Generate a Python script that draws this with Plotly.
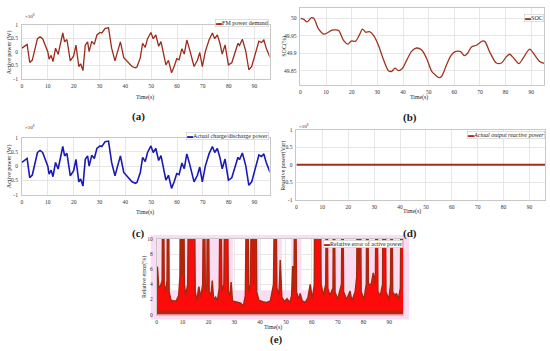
import plotly.graph_objects as go

W, H = 550, 351

# ---------------- data ----------------
# (a)/(c) FM power demand & actual charge/discharge power (x1e6 W)
power_time = [0, 1.4, 2.0, 3.0, 4.0, 6.0, 7.0, 8.0, 10.0, 10.5, 11.3, 12.0, 13.0, 14.0,
              15.8, 16.5, 17.4, 18.7, 20.0, 20.9, 22.0, 22.7, 23.6, 24.5, 25.4, 26.0,
              27.0, 28.0, 29.0, 30.2, 30.9, 32.2, 33.5, 34.7, 36.0, 37.0, 38.1, 39.4,
              40.6, 42.6, 43.9, 44.5, 45.8, 46.7, 47.7, 48.6, 49.9, 50.8, 51.8, 52.9,
              53.8, 54.7, 55.7, 56.7, 57.9, 58.9, 59.9, 60.8, 61.9, 62.8, 63.8, 64.7,
              65.7, 66.6, 67.9, 68.8, 69.8, 71.0, 72.4, 73.7, 74.6, 75.6, 76.6, 77.5,
              78.6, 79.9, 81.2, 82.4, 83.6, 84.2, 85.3, 86.6, 87.8, 88.9, 90.4, 91.7,
              92.7, 93.6, 94.5, 95.5, 96.0]
fm_demand = [0.13, 0.24, 0.27, -0.40, -0.31, 0.48, 0.55, 0.48, 0.0, -0.28, -0.14, -0.37,
             0.13, -0.10, 0.69, 0.36, 0.45, -0.34, -0.16, 0.24, -0.55, -0.45, -0.70,
             0.24, 0.36, 0.0, 0.38, 0.27, 0.62, 0.71, 0.69, 0.86, 0.88, 0.13, -0.34,
             0.0, 0.36, -0.22, -0.34, -0.55, -0.60, -0.57, -0.22, 0.31, 0.16, 0.48,
             0.71, 0.48, 0.62, 0.20, 0.37, -0.09, -0.49, -0.32, -0.78, -0.55, -0.26,
             -0.30, 0.11, -0.09, 0.43, 0.14, -0.26, -0.55, -0.32, -0.03, -0.55, 0.02,
             0.43, 0.69, 0.48, 0.62, 0.31, -0.09, 0.25, -0.49, -0.41, -0.09, 0.31,
             0.23, 0.46, 0.02, -0.67, -0.55, -0.09, 0.39, 0.34, 0.43, 0.14, -0.15, -0.22]
actual_power = list(fm_demand)

# (b) SOC (%)
soc_time = [0, 1.3, 2.6, 4.3, 5.2, 7.1, 9.1, 10.4, 12.3, 13.6, 14.9, 16.8, 18.5, 19.8,
            21.4, 22.9, 24.2, 25.5, 26.9, 28.5, 30.4, 32.4, 34.3, 35.6, 36.9, 38.2,
            39.8, 41.5, 43.4, 45.3, 47.3, 49.2, 51.2, 52.7, 54.0, 55.1, 57.0, 58.7,
            60.2, 61.5, 62.6, 63.9, 65.2, 66.7, 68.7, 70.9, 71.9, 73.8, 76.4, 78.4,
            80.3, 81.6, 83.3, 85.2, 86.8, 89.4, 91.3, 93.3, 95.0]
soc = [50.0, 49.997, 49.99, 50.002, 50.0, 49.969, 49.955, 49.958, 49.966, 49.967,
       49.965, 49.937, 49.926, 49.935, 49.934, 49.951, 49.969, 49.960, 49.962, 49.951,
       49.923, 49.881, 49.850, 49.848, 49.857, 49.850, 49.857, 49.881, 49.906, 49.915,
       49.909, 49.885, 49.848, 49.837, 49.830, 49.834, 49.867, 49.893, 49.904, 49.906,
       49.904, 49.893, 49.900, 49.918, 49.923, 49.935, 49.934, 49.904, 49.872, 49.872,
       49.890, 49.897, 49.885, 49.870, 49.885, 49.912, 49.895, 49.876, 49.871]

# (d) reactive power (x1e6 Var)
reactive_time = [0, 96]
reactive_power = [0, 0]

# (e) relative error of active power (%)
err_time = [0, 0.3, 0.8, 1.5, 2.1, 2.5, 2.9, 3.5, 4.0, 4.4, 4.8, 5.5, 6.5, 7.5, 8.5, 9.0,
            9.3, 9.7, 10.0, 10.3, 10.7, 11.2, 12.0, 12.5, 14.4, 14.9, 15.5, 16.3, 17.0,
            17.8, 18.3, 18.8, 19.4, 19.8, 20.3, 21.0, 21.5, 22.0, 22.8, 23.5, 24.2,
            24.7, 25.2, 26.0, 26.6, 27.2, 27.7, 28.3, 28.8, 29.3, 30.5, 31.5, 32.5,
            33.5, 34.3, 35.0, 35.6, 36.3, 36.9, 37.5, 38.2, 38.7, 39.5, 41.0, 42.5,
            44.0, 45.2, 45.9, 46.5, 47.3, 47.8, 48.4, 49.5, 50.4, 51.5, 52.2, 52.6,
            53.1, 53.6, 54.1, 55.0, 55.5, 56.3, 57.5, 58.5, 59.4, 60.2, 61.0, 61.3,
            63.2, 63.6, 64.5, 65.4, 65.8, 66.2, 67.0, 68.2, 68.6, 69.0, 70.0, 71.5,
            71.9, 72.3, 73.5, 74.8, 75.5, 76.8, 77.4, 77.8, 78.2, 78.7, 79.1, 80.2,
            81.1, 81.5, 81.9, 83.0, 83.8, 84.6, 85.1, 85.6, 86.5, 87.4, 87.7, 88.3,
            88.7, 89.8, 90.5, 90.9, 91.3, 92.2, 92.8, 93.5, 94.3, 94.7, 96.0]
err_value = [6.3, 6.2, 3.5, 3.8, 4.5, 25, 4.0, 3.0, 4.5, 25, 3.0, 1.9, 1.8, 1.8, 2.5, 5,
             25, 5, 6, 25, 4, 2.5, 4, 25, 25, 3, 1.8, 3.7, 2.2, 4, 25, 3, 4, 25, 3, 2.5,
             4.5, 2.0, 2.3, 1.8, 3.5, 25, 3, 4, 25, 25, 3, 2.5, 4.3, 1.8, 1.7, 1.6, 1.5,
             1.1, 2.5, 25, 3, 4, 25, 4, 25, 3, 1.9, 1.7, 1.6, 1.8, 4, 25, 3.5, 2.5, 7.2,
             2.3, 1.7, 2.1, 1.6, 2.5, 6.4, 3, 25, 3, 2, 2.8, 1.8, 1.6, 2.2, 4, 2, 4, 25,
             25, 4, 2.5, 4, 25, 3.5, 2.5, 3.5, 25, 3, 2, 4, 25, 3, 2, 3.1, 1.8, 3, 5, 25,
             6, 25, 3, 2, 4, 25, 4, 4, 5.5, 4, 25, 3, 2.5, 4, 25, 25, 3, 2, 4, 25, 3,
             2.5, 2.8, 2, 3.5, 25, 25]
err_floor = [0.55, 0.55]

tick_time = [0, 10, 20, 30, 40, 50, 60, 70, 80, 90]

# ---------------- layout helpers ----------------
def px(x):
    return x / W

def py(y):
    return 1 - y / H

DARKRED = "#9c2b1c"
BLUE = "#1a1ab4"
FONT = "Liberation Serif"

fig = go.Figure()

fig.add_trace(go.Scatter(x=power_time, y=fm_demand, mode="lines",
                         line=dict(color=DARKRED, width=1.3), xaxis="x", yaxis="y",
                         showlegend=False))
fig.add_trace(go.Scatter(x=soc_time, y=soc, mode="lines",
                         line=dict(color="#a0351f", width=1.3, shape="spline", smoothing=0.8),
                         xaxis="x2", yaxis="y2", showlegend=False))
fig.add_trace(go.Scatter(x=power_time, y=actual_power, mode="lines",
                         line=dict(color=BLUE, width=1.6), xaxis="x3", yaxis="y3",
                         showlegend=False))
fig.add_trace(go.Scatter(x=reactive_time, y=reactive_power, mode="lines",
                         line=dict(color="#a0301c", width=2), xaxis="x4", yaxis="y4",
                         showlegend=False))
fig.add_trace(go.Scatter(x=err_time, y=err_value, mode="lines", fill="tozeroy",
                         fillcolor="#ff0a0a", line=dict(color="#a8280e", width=1.5),
                         xaxis="x5", yaxis="y5", showlegend=False))
fig.add_trace(go.Scatter(x=[0, 95.5], y=err_floor, mode="lines", fill="tozeroy",
                         fillcolor="#b02a12", line=dict(color="#b02a12", width=0),
                         xaxis="x5", yaxis="y5", showlegend=False))

axis_common = dict(showline=True, mirror=True, linecolor="#c8c8c8", linewidth=0.8,
                   showgrid=True, gridcolor="#e6e6e6", gridwidth=0.6, zeroline=False,
                   ticks="", tickfont=dict(family=FONT, size=5.5, color="#333"),
                   ticklen=0)

def xax(dom, anchor, rng):
    d = dict(axis_common)
    d.update(domain=dom, anchor=anchor, range=rng, tickvals=tick_time, ticklabelstandoff=2)
    return d

def yax(dom, anchor, rng, tv, tt=None):
    d = dict(axis_common)
    d.update(domain=dom, anchor=anchor, range=rng, tickvals=tv, ticklabelstandoff=2)
    if tt is not None:
        d["ticktext"] = tt
    return d

pw_ticks = [-1, -0.5, 0, 0.5, 1]
pw_text = ["-1", "-0.5", "0", "0.5", "1"]

fig.update_layout(
    width=W, height=H, margin=dict(l=0, r=0, t=0, b=0), autosize=False,
    paper_bgcolor="white", plot_bgcolor="rgba(0,0,0,0)",
    font=dict(family=FONT, color="#222"),
    xaxis=xax([px(21), px(269)], "y", [0, 95.8]),
    yaxis=yax([py(77), py(22)], "x", [-1, 1], pw_ticks, pw_text),
    xaxis2=xax([px(300), px(544)], "y2", [0, 95]),
    yaxis2=yax([py(83), py(5)], "x2", [49.81, 50.03], [49.85, 49.9, 49.95, 50],
               ["49.85", "49.9", "49.95", "50"]),
    xaxis3=xax([px(21), px(269)], "y3", [0, 95.8]),
    yaxis3=yax([py(195), py(137)], "x3", [-1, 1], pw_ticks, pw_text),
    xaxis4=xax([px(296), px(545)], "y4", [0, 96]),
    yaxis4=yax([py(200), py(129)], "x4", [-1, 1], pw_ticks, pw_text),
    xaxis5=xax([px(156), px(403)], "y5", [0, 95.4]),
    yaxis5=yax([py(317), py(240)], "x5", [0, 10], [0, 2, 4, 6, 8, 10]),
)

shapes = [dict(type="rect", xref="paper", yref="paper", x0=px(150), x1=px(409),
               y0=py(322), y1=py(236), fillcolor="#fcdcf2", line=dict(width=0),
               layer="below")]
for a, b in [(5.2, 8.8), (29.5, 34.2), (39.6, 45.0), (48.5, 52.0), (56.0, 60.5)]:
    shapes.append(dict(type="rect", xref="x5", yref="y5", x0=a, x1=b, y0=3.2, y1=10,
                       fillcolor="white", line=dict(width=0), layer="below"))
fig.update_layout(shapes=shapes)

ann = []

def text(x, y, s, size=6, angle=0, xa="center", ya="middle", color="#222"):
    ann.append(dict(x=px(x), y=py(y), xref="paper", yref="paper", text=s,
                    showarrow=False, textangle=angle, xanchor=xa, yanchor=ya,
                    font=dict(family=FONT, size=size, color=color)))

text(138, 115, "<b>(a)</b>", 11)
text(410, 117, "<b>(b)</b>", 11)
text(138, 234, "<b>(c)</b>", 11)
text(410, 234, "<b>(d)</b>", 11)
text(276, 342, "<b>(e)</b>", 11)

for xx, yy in [(144, 96.5), (419, 96.5), (144, 213.5), (412, 212), (272, 330)]:
    text(xx, yy, "Time(s)", 5.8)
text(8, 50, "Active power (W)", 6, -90)
text(8, 166, "Active power (W)", 6, -90)
text(284, 44, "SOC(%)", 6, -90)
text(283, 165, "Reactive power(Var)", 6, -90)
text(143, 279, "Relative error(%)", 6, -90)

text(22, 13, "×10<sup>6</sup>", 5, xa="left")
text(22, 126, "×10<sup>6</sup>", 5, xa="left")
text(297, 125, "×10<sup>6</sup>", 5, xa="left")

def legend(xr, yt, label, color):
    ann.append(dict(x=px(xr), y=py(yt), xref="paper", yref="paper",
                    text=f"<span style='color:{color}'>▬</span>{label}",
                    showarrow=False, xanchor="right", yanchor="top",
                    bgcolor="white", bordercolor="#c8c8c8", borderwidth=0.6, borderpad=0.5,
                    font=dict(family=FONT, size=6, color="#222")))

legend(268.5, 16.5, "FM power demand", DARKRED)
legend(543.5, 11.5, "SOC", "#a0351f")
legend(268.5, 131.5, "Actual charge/discharge power", BLUE)
legend(544.5, 130.5, "<i>Actual output reactive power</i>", "#a0301c")
legend(402.5, 241.5, "Relative error of active power", "#a8280e")

fig.update_layout(annotations=ann)

fig.write_html("out.html", config={"responsive": False, "displayModeBar": False},
               post_script="document.body.style.margin='0px';document.body.style.padding='0px';")
